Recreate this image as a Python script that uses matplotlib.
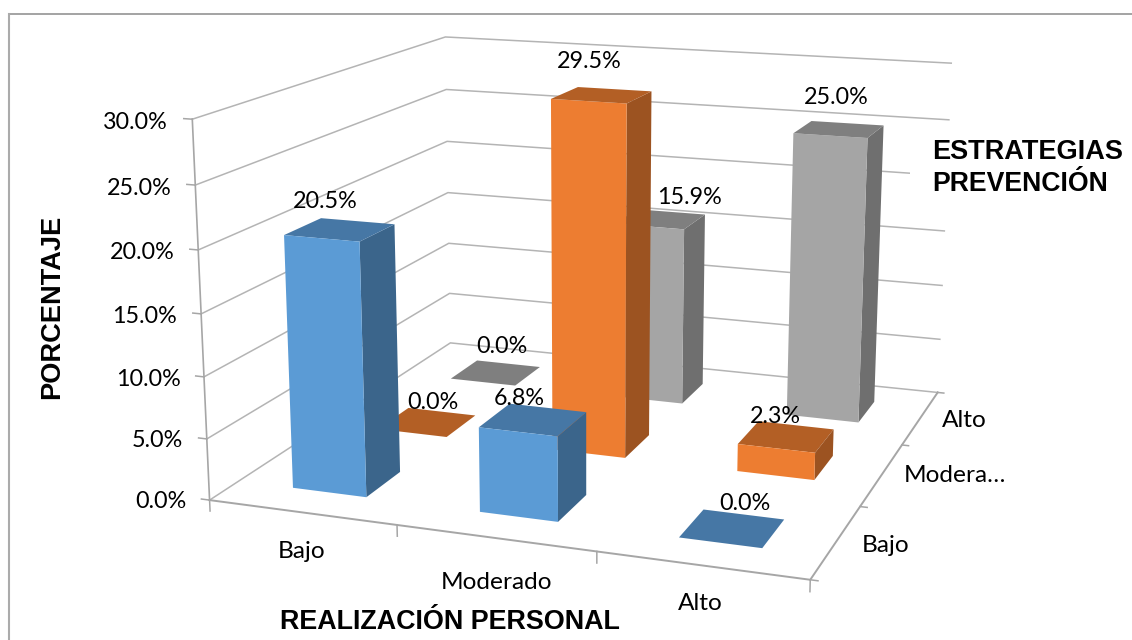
import matplotlib
matplotlib.use('Agg')
import matplotlib.pyplot as plt
from matplotlib.lines import Line2D
from matplotlib.patches import Rectangle

# data
categories = ['Bajo', 'Moderado', 'Alto']
depth_labels = ['Bajo', 'Modera…', 'Alto']
bajo_vals = [20.5, 6.8, 0.0]
moderado_vals = [0.0, 29.5, 2.3]
alto_vals = [0.0, 15.9, 25.0]
z_ticks = [0, 5, 10, 15, 20, 25, 30]

series = [bajo_vals, moderado_vals, alto_vals]
# front, top, side
face_colors = [('#5B9BD5', '#4677A5', '#3B658B'),
               ('#ED7D31', '#B35F25', '#9C5321'),
               ('#A5A5A5', '#7F7F7F', '#6F6F6F')]
clear = (0, 0, 0, 0)
grid_col = '#B4B4B4'
axis_col = '#A6A6A6'

# nudges for the labels, excel does not put them quite on the bar centre
label_dx = [[-0.075, -0.07, 0.06], [0.035, -0.065, -0.06], [0.04, 0.17, -0.02]]
label_dz = [[0.7, 0.15, 0.7], [0.25, 1.2, 0.1], [1.0, 0.65, 1.2]]
cat_dx = [0.085, 0.075, 0.05]
cat_dz = [-1.95, -2.25, -1.7]
depth_dx = [0.03, 0.17, 0.04]
depth_dz = [0.2, 0.6, 0.2]

W, H = 1132, 640
plt.rcParams['font.family'] = ['Lato', 'DejaVu Sans']

fig = plt.figure(figsize=(W / 100, H / 100), dpi=100)
fig.add_artist(Line2D([8.5 / W, 1], [1 - 13.5 / H, 1 - 13.5 / H], color='#9C9C9C', lw=1.3, zorder=-1))
fig.add_artist(Line2D([8.5 / W, 8.5 / W], [0, 1 - 13.5 / H], color='#ABABAB', lw=1.5, zorder=-1))

# camera fitted against the corners of the reference box
scale = 4682.204
left = scale * -0.095 + 601.494
bottom = scale * -0.095 + 370.795
size = scale * 0.185
ax = fig.add_axes([left / W, bottom / H, size / W, size / H], projection='3d', computed_zorder=False)
ax.patch.set_visible(False)
ax.set_axis_off()
ax.set_xlim(0, 3)
ax.set_ylim(0, 3)
ax.set_zlim(0, 30)
ax.view_init(elev=14.069, azim=-70.512, roll=-0.084)
ax.set_proj_type('persp', focal_length=0.4598)
ax.set_box_aspect((1, 0.9806, 0.6258))

# walls
for z in z_ticks:
    ax.plot([0, 0, 3], [0, 3, 3], [z, z, z], color=grid_col, lw=1.1, zorder=1)
    ax.plot([-0.045, 0], [0, 0], [z, z], color=axis_col, lw=1.1, zorder=1)
    ax.text(-0.13, 0, z - 0.4, '%.1f%%' % z, ha='right', va='center', fontsize=16.8, zorder=5)
ax.plot([0, 0], [0, 0], [0, 30], color=axis_col, lw=1.2, zorder=1)
ax.plot([0, 3, 3], [0, 0, 3], [0, 0, 0], color=axis_col, lw=1.4, zorder=1)
for i in range(4):
    ax.plot([i, i], [0, 0], [0, -0.9], color=axis_col, lw=1.1, zorder=1)
    ax.plot([3, 3.035], [i, i], [0, 0], color=axis_col, lw=1.1, zorder=1)

for i, name in enumerate(categories):
    ax.text(i + 0.5 + cat_dx[i], -0.18, cat_dz[i], name, ha='center', va='center', fontsize=17.6, zorder=5)
for j, name in enumerate(depth_labels):
    ax.text(3.2 + depth_dx[j], j + 0.5, depth_dz[j], name, ha='center', va='center', fontsize=17.6, zorder=5)

# bars, back to front
bar_w = 0.4
order = 10
for j in [2, 1, 0]:
    for i in range(3):
        v = series[j][i]
        front, top, side = face_colors[j]
        ax.bar3d(i + 0.5 - bar_w / 2, j + 0.5 - bar_w / 2, 0, bar_w, bar_w, v,
                 color=[clear, top, front, clear, clear, side], shade=False, zorder=order)
        order += 1
        ax.text(i + 0.5 + label_dx[j][i], j + 0.5, v + 0.6 + label_dz[j][i], '%.1f%%' % v,
                ha='center', va='bottom', fontsize=16.8, zorder=30)

# white box behind the series title
fig.add_artist(Rectangle((910 / W, 1 - 205 / H), 215 / W, 75 / H, transform=fig.transFigure,
                         fc='white', ec='none', zorder=1))

fig.text(932 / W, 1 - 152 / H, 'ESTRATEGIAS', family='Liberation Sans', weight='bold',
         fontsize=19.5, va='center', ha='left')
fig.text(932 / W, 1 - 184 / H, 'PREVENCIÓN', family='Liberation Sans', weight='bold',
         fontsize=19.2, va='center', ha='left')
fig.text(450 / W, 1 - 622 / H, 'REALIZACIÓN PERSONAL', family='Liberation Sans', weight='bold',
         fontsize=19.4, va='center', ha='center')
fig.text(52 / W, 1 - 307 / H, 'PORCENTAJE', family='Liberation Sans', weight='bold',
         fontsize=19.6, va='center', ha='center', rotation=90)

fig.savefig('out.png', dpi=100)
